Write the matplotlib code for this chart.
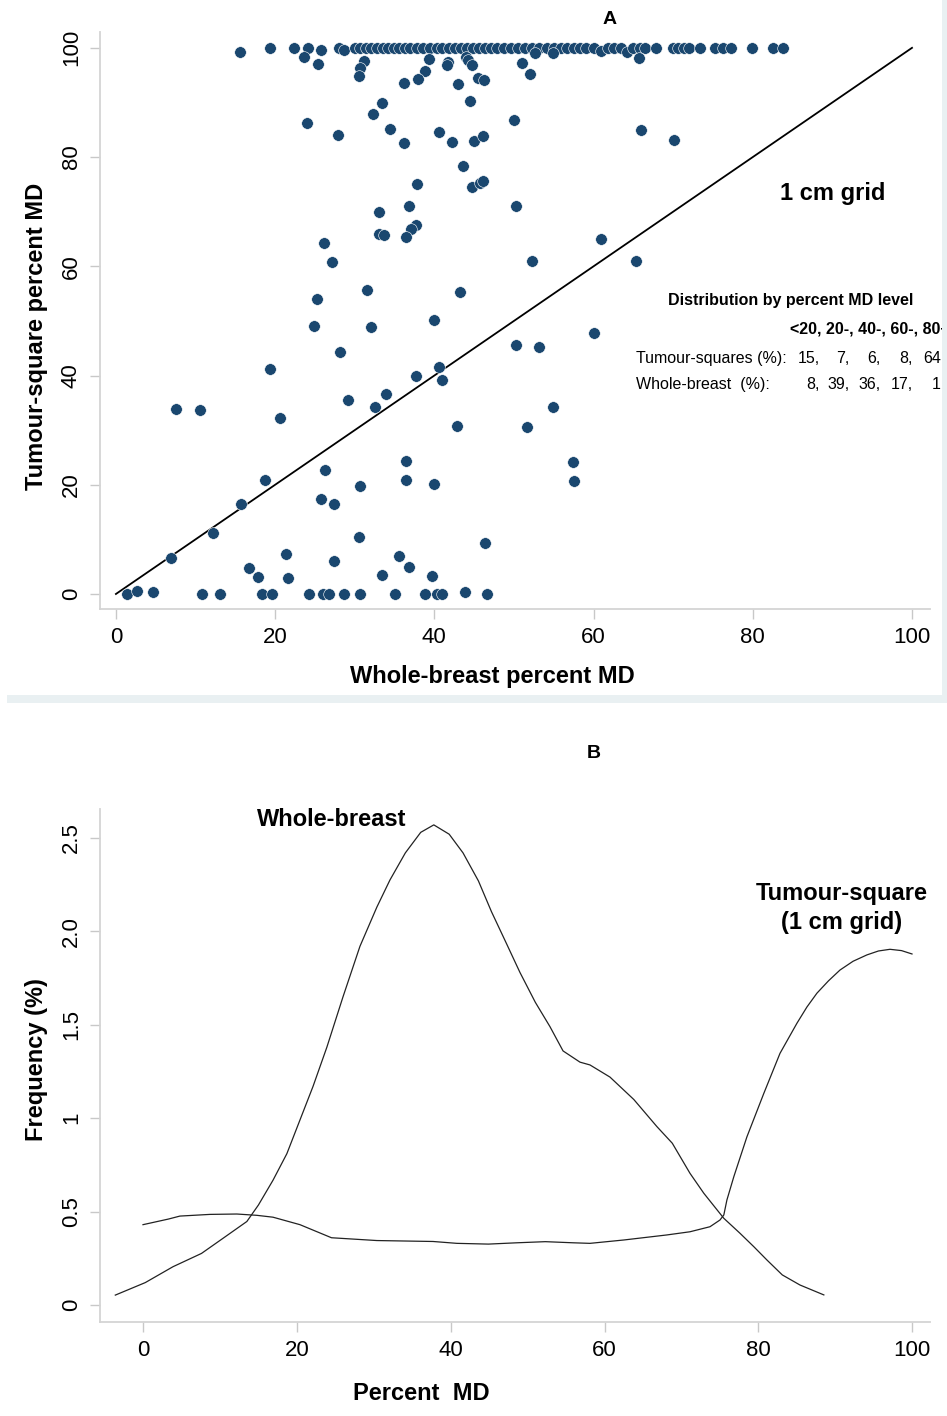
import matplotlib
matplotlib.use("Agg")
import matplotlib.pyplot as plt
from matplotlib.patches import Rectangle
from matplotlib.ticker import FixedLocator, FixedFormatter

plt.rcParams['font.family'] = ['Liberation Sans', 'DejaVu Sans']

W, H = 947, 1416

# ---- panel A data: whole-breast vs tumour-square percent MD ----
top_x = [15.6, 19.3, 22.4, 24.1, 25.7, 28.0, 28.7,
         30.0, 30.7, 31.4, 32.1, 32.8, 33.5, 34.2, 34.9, 35.6, 36.3, 37.0, 37.8,
         38.6, 39.4, 40.3, 41.0, 41.8, 42.6, 43.4, 44.1, 44.9, 45.6, 46.3, 47.1,
         47.9, 48.8, 49.6, 50.5, 51.4, 52.3, 53.2, 54.1, 55.0, 55.9, 56.7, 57.5,
         58.3, 59.1, 60.0, 60.9, 61.8, 62.6, 63.4, 64.2, 65.0, 65.8, 66.5, 67.8,
         70.0, 70.6, 71.3, 72.0, 73.4, 75.3, 76.3, 77.3, 79.9, 82.5, 83.8]
top_y = [99.3, 100, 100, 100, 99.6, 100, 99.6,
         100, 100, 100, 100, 100, 100, 100, 100, 100, 100, 100, 100,
         100, 100, 100, 100, 100, 100, 100, 100, 100, 100, 100, 100,
         100, 100, 100, 100, 100, 100, 100, 100, 100, 100, 100, 100,
         100, 100, 100, 99.5, 100, 100, 100, 99.3, 100, 100, 100, 100,
         100, 100, 100, 100, 100, 100, 100, 100, 100, 100, 100]

other_x = [23.6, 25.4, 31.2, 30.7, 30.5, 39.3, 41.7, 41.6, 44.0, 44.2, 44.7, 51.0,
           52.0, 52.6, 54.9, 65.7, 38.8, 37.9, 36.2, 43.0, 45.5, 46.2, 33.4, 44.5,
           32.3, 24.0, 50.0, 34.4, 27.9, 40.6, 42.2, 36.2, 45.0, 46.1, 66.0, 70.1,
           43.6, 37.8, 44.7, 45.7, 46.1, 50.3, 33.1, 36.8, 37.7, 37.1, 36.5, 33.0,
           33.7, 26.1, 27.2, 52.3, 60.9, 65.3, 31.5, 43.2, 25.3, 24.9, 32.1, 39.9,
           60.1, 28.1, 50.3, 53.2, 19.3, 40.6, 40.9, 37.7, 7.5, 10.6, 20.6, 29.2,
           32.5, 33.9, 42.9, 51.6, 54.9, 57.4, 57.5,
           18.7, 26.3, 25.8, 27.4, 30.7, 36.4, 36.5, 40.0, 15.7, 12.2, 6.9, 30.5,
           46.3, 21.4, 27.4, 35.6, 16.7, 36.8, 17.9, 21.6, 33.4, 39.7,
           1.4, 2.6, 4.6, 10.8, 13.1, 18.3, 19.6, 24.2, 26.0, 26.8, 28.7, 30.7,
           35.1, 38.8, 40.3, 40.9, 43.9, 46.6]
other_y = [98.4, 97.1, 97.6, 96.3, 94.9, 98.0, 97.4, 96.9, 98.4, 97.8, 96.9, 97.2,
           95.2, 99.1, 99.1, 98.2, 95.7, 94.3, 93.6, 93.4, 94.5, 94.1, 89.9, 90.3,
           87.9, 86.3, 86.8, 85.2, 84.1, 84.5, 82.8, 82.6, 83.0, 83.8, 85.0, 83.1,
           78.4, 75.0, 74.6, 75.2, 75.6, 71.1, 69.9, 71.0, 67.6, 66.8, 65.4, 65.9,
           65.8, 64.2, 60.7, 60.9, 65.0, 61.0, 55.7, 55.3, 54.0, 49.1, 48.9, 50.2,
           47.8, 44.3, 45.6, 45.2, 41.2, 41.6, 39.2, 40.0, 33.9, 33.6, 32.2, 35.5,
           34.2, 36.7, 30.8, 30.5, 34.2, 24.2, 20.6,
           20.8, 22.7, 17.4, 16.4, 19.8, 24.3, 20.9, 20.1, 16.4, 11.1, 6.6, 10.5,
           9.3, 7.3, 6.0, 7.0, 4.7, 4.9, 3.2, 3.0, 3.5, 3.3,
           0, 0.5, 0.3, 0, 0, 0, 0, 0, 0, 0, 0, 0,
           0, 0, 0, 0, 0.3, 0]

wb_md = top_x + other_x
ts_md = top_y + other_y

md_levels = ['<20', '20-', '40-', '60-', '80+']
ts_dist = [15, 7, 6, 8, 64]
wb_dist = [8, 39, 36, 17, 1]

# ---- panel B data: frequency curves ----
wb_curve_x = [-3.6, 0.3, 3.9, 7.6, 10.4, 13.5, 15.0, 16.9, 18.7, 20.4, 22.1, 23.9,
              26.0, 28.2, 30.4, 32.1, 34.1, 36.1, 37.8, 39.8, 41.6, 43.6, 45.3,
              47.3, 49.0, 51.0, 52.9, 54.6, 56.8, 58.1, 60.7, 63.8, 66.8, 68.8,
              71.1, 72.9, 75.5, 77.6, 79.4, 81.1, 83.1, 85.4, 88.5]
wb_curve_y = [0.053, 0.12, 0.205, 0.276, 0.357, 0.447, 0.535, 0.668, 0.81, 0.99,
              1.17, 1.38, 1.65, 1.92, 2.13, 2.275, 2.42, 2.53, 2.57, 2.52, 2.42,
              2.27, 2.105, 1.93, 1.78, 1.62, 1.49, 1.36, 1.30, 1.285, 1.22, 1.10,
              0.955, 0.866, 0.705, 0.598, 0.464, 0.384, 0.312, 0.241, 0.161,
              0.107, 0.054]

ts_curve_x = [0.0, 3.3, 4.8, 8.7, 12.2, 14.8, 16.9, 20.4, 24.5, 30.4, 37.7, 40.8,
              44.9, 48.6, 52.3, 55.9, 58.1, 62.5, 68.1, 71.1, 73.7, 75.0, 75.5,
              75.9, 76.8, 78.5, 80.7, 82.8, 85.0, 86.3, 87.6, 89.1, 90.6, 92.3,
              94.1, 95.6, 97.1, 98.6, 99.96]
ts_curve_y = [0.43, 0.46, 0.476, 0.485, 0.487, 0.48, 0.47, 0.43, 0.36, 0.345,
              0.34, 0.33, 0.326, 0.333, 0.339, 0.333, 0.33, 0.348, 0.375, 0.392,
              0.419, 0.455, 0.482, 0.562, 0.687, 0.90, 1.133, 1.347, 1.508, 1.595,
              1.669, 1.735, 1.793, 1.84, 1.874, 1.895, 1.904, 1.897, 1.879]


def fx(px):
    return px / W


def fy(py):
    return 1 - py / H


def style_axes(ax):
    for s in ['top', 'right']:
        ax.spines[s].set_visible(False)
    for s in ['left', 'bottom']:
        ax.spines[s].set_color('#d4d4d4')
        ax.spines[s].set_linewidth(1.3)
    ax.tick_params(length=7, width=1, color='#c8c8c8', labelsize=16, pad=6)
    for lab in ax.get_yticklabels():
        lab.set_rotation(90)
        lab.set_va('center')


fig = plt.figure(figsize=(W / 100, H / 100), dpi=100)

# light shadow frame round panel A
fig.patches.append(Rectangle((fx(7), fy(703)), fx(940), 8 / H, transform=fig.transFigure,
                             facecolor='#e9f0f2', edgecolor='none', zorder=0))
fig.patches.append(Rectangle((fx(942), fy(703)), fx(5), 703 / H, transform=fig.transFigure,
                             facecolor='#e9f0f2', edgecolor='none', zorder=0))

# ---------- panel A ----------
axA = fig.add_axes([fx(100), fy(609), fx(830), (609 - 32) / H])
axA.set_facecolor('none')
axA.scatter(wb_md, ts_md, s=70, color='#1a476f', edgecolors='white', linewidths=0.4,
            zorder=3, clip_on=False)
axA.plot([0, 100], [0, 100], color='black', lw=1.3, zorder=2)
axA.set_xlim(-2.0, 102.26)
axA.set_ylim(-2.75, 102.9)
axA.set_xticks([0, 20, 40, 60, 80, 100])
axA.set_yticks([0, 20, 40, 60, 80, 100])
style_axes(axA)

axA.text(90, 73.4, '1 cm grid', fontsize=17, fontweight='bold', ha='center', va='center')
axA.text(84.7, 53.8, 'Distribution by percent MD level', fontsize=11.5, fontweight='bold',
         ha='center', va='center')
axA.text(84.7, 48.5, ', '.join(md_levels), fontsize=11.5, fontweight='bold',
         ha='left', va='center', clip_on=False)
axA.text(65.3, 43.2, 'Tumour-squares (%):', fontsize=11.5, ha='left', va='center')
axA.text(65.3, 38.3, 'Whole-breast  (%):', fontsize=11.5, ha='left', va='center')
col_x = [88.4, 92.1, 96.1, 100.1, 103.6]
for i, cx in enumerate(col_x):
    end = ',' if i < len(col_x) - 1 else ''
    axA.text(cx, 43.2, f'{ts_dist[i]}{end}', fontsize=11.5, ha='right', va='center', clip_on=False)
    axA.text(cx, 38.3, f'{wb_dist[i]}{end}', fontsize=11.5, ha='right', va='center', clip_on=False)

fig.text(fx(610), fy(19), 'A', fontsize=14, fontweight='bold', ha='center', va='center')
fig.text(fx(492), fy(677), 'Whole-breast percent MD', fontsize=17, fontweight='bold',
         ha='center', va='center')
fig.text(fx(37), fy(336), 'Tumour-square percent MD', fontsize=17, fontweight='bold',
         ha='center', va='center', rotation=90)

# ---------- panel B ----------
axB = fig.add_axes([fx(100), fy(1322), fx(830), (1322 - 809) / H])
axB.plot(wb_curve_x, wb_curve_y, color='#222222', lw=0.9)
axB.plot(ts_curve_x, ts_curve_y, color='#222222', lw=0.9)
axB.set_xlim(-5.59, 102.3)
axB.set_ylim(-0.091, 2.655)
axB.set_xticks([0, 20, 40, 60, 80, 100])
axB.yaxis.set_major_locator(FixedLocator([0, 0.5, 1, 1.5, 2.0, 2.5]))
axB.yaxis.set_major_formatter(FixedFormatter(['0', '0.5', '1', '1.5', '2.0', '2.5']))
style_axes(axB)

axB.text(24.5, 2.6, 'Whole-breast', fontsize=17, fontweight='bold', ha='center', va='center')
axB.text(90.8, 2.125, 'Tumour-square\n(1 cm grid)', fontsize=17, fontweight='bold',
         ha='center', va='center', multialignment='center', linespacing=1.3)

fig.text(fx(594), fy(753), 'B', fontsize=14, fontweight='bold', ha='center', va='center')
fig.text(fx(421), fy(1394), 'Percent  MD', fontsize=17, fontweight='bold',
         ha='center', va='center')
fig.text(fx(37), fy(1060), 'Frequency (%)', fontsize=17, fontweight='bold',
         ha='center', va='center', rotation=90)

fig.savefig('out.png', dpi=100)
